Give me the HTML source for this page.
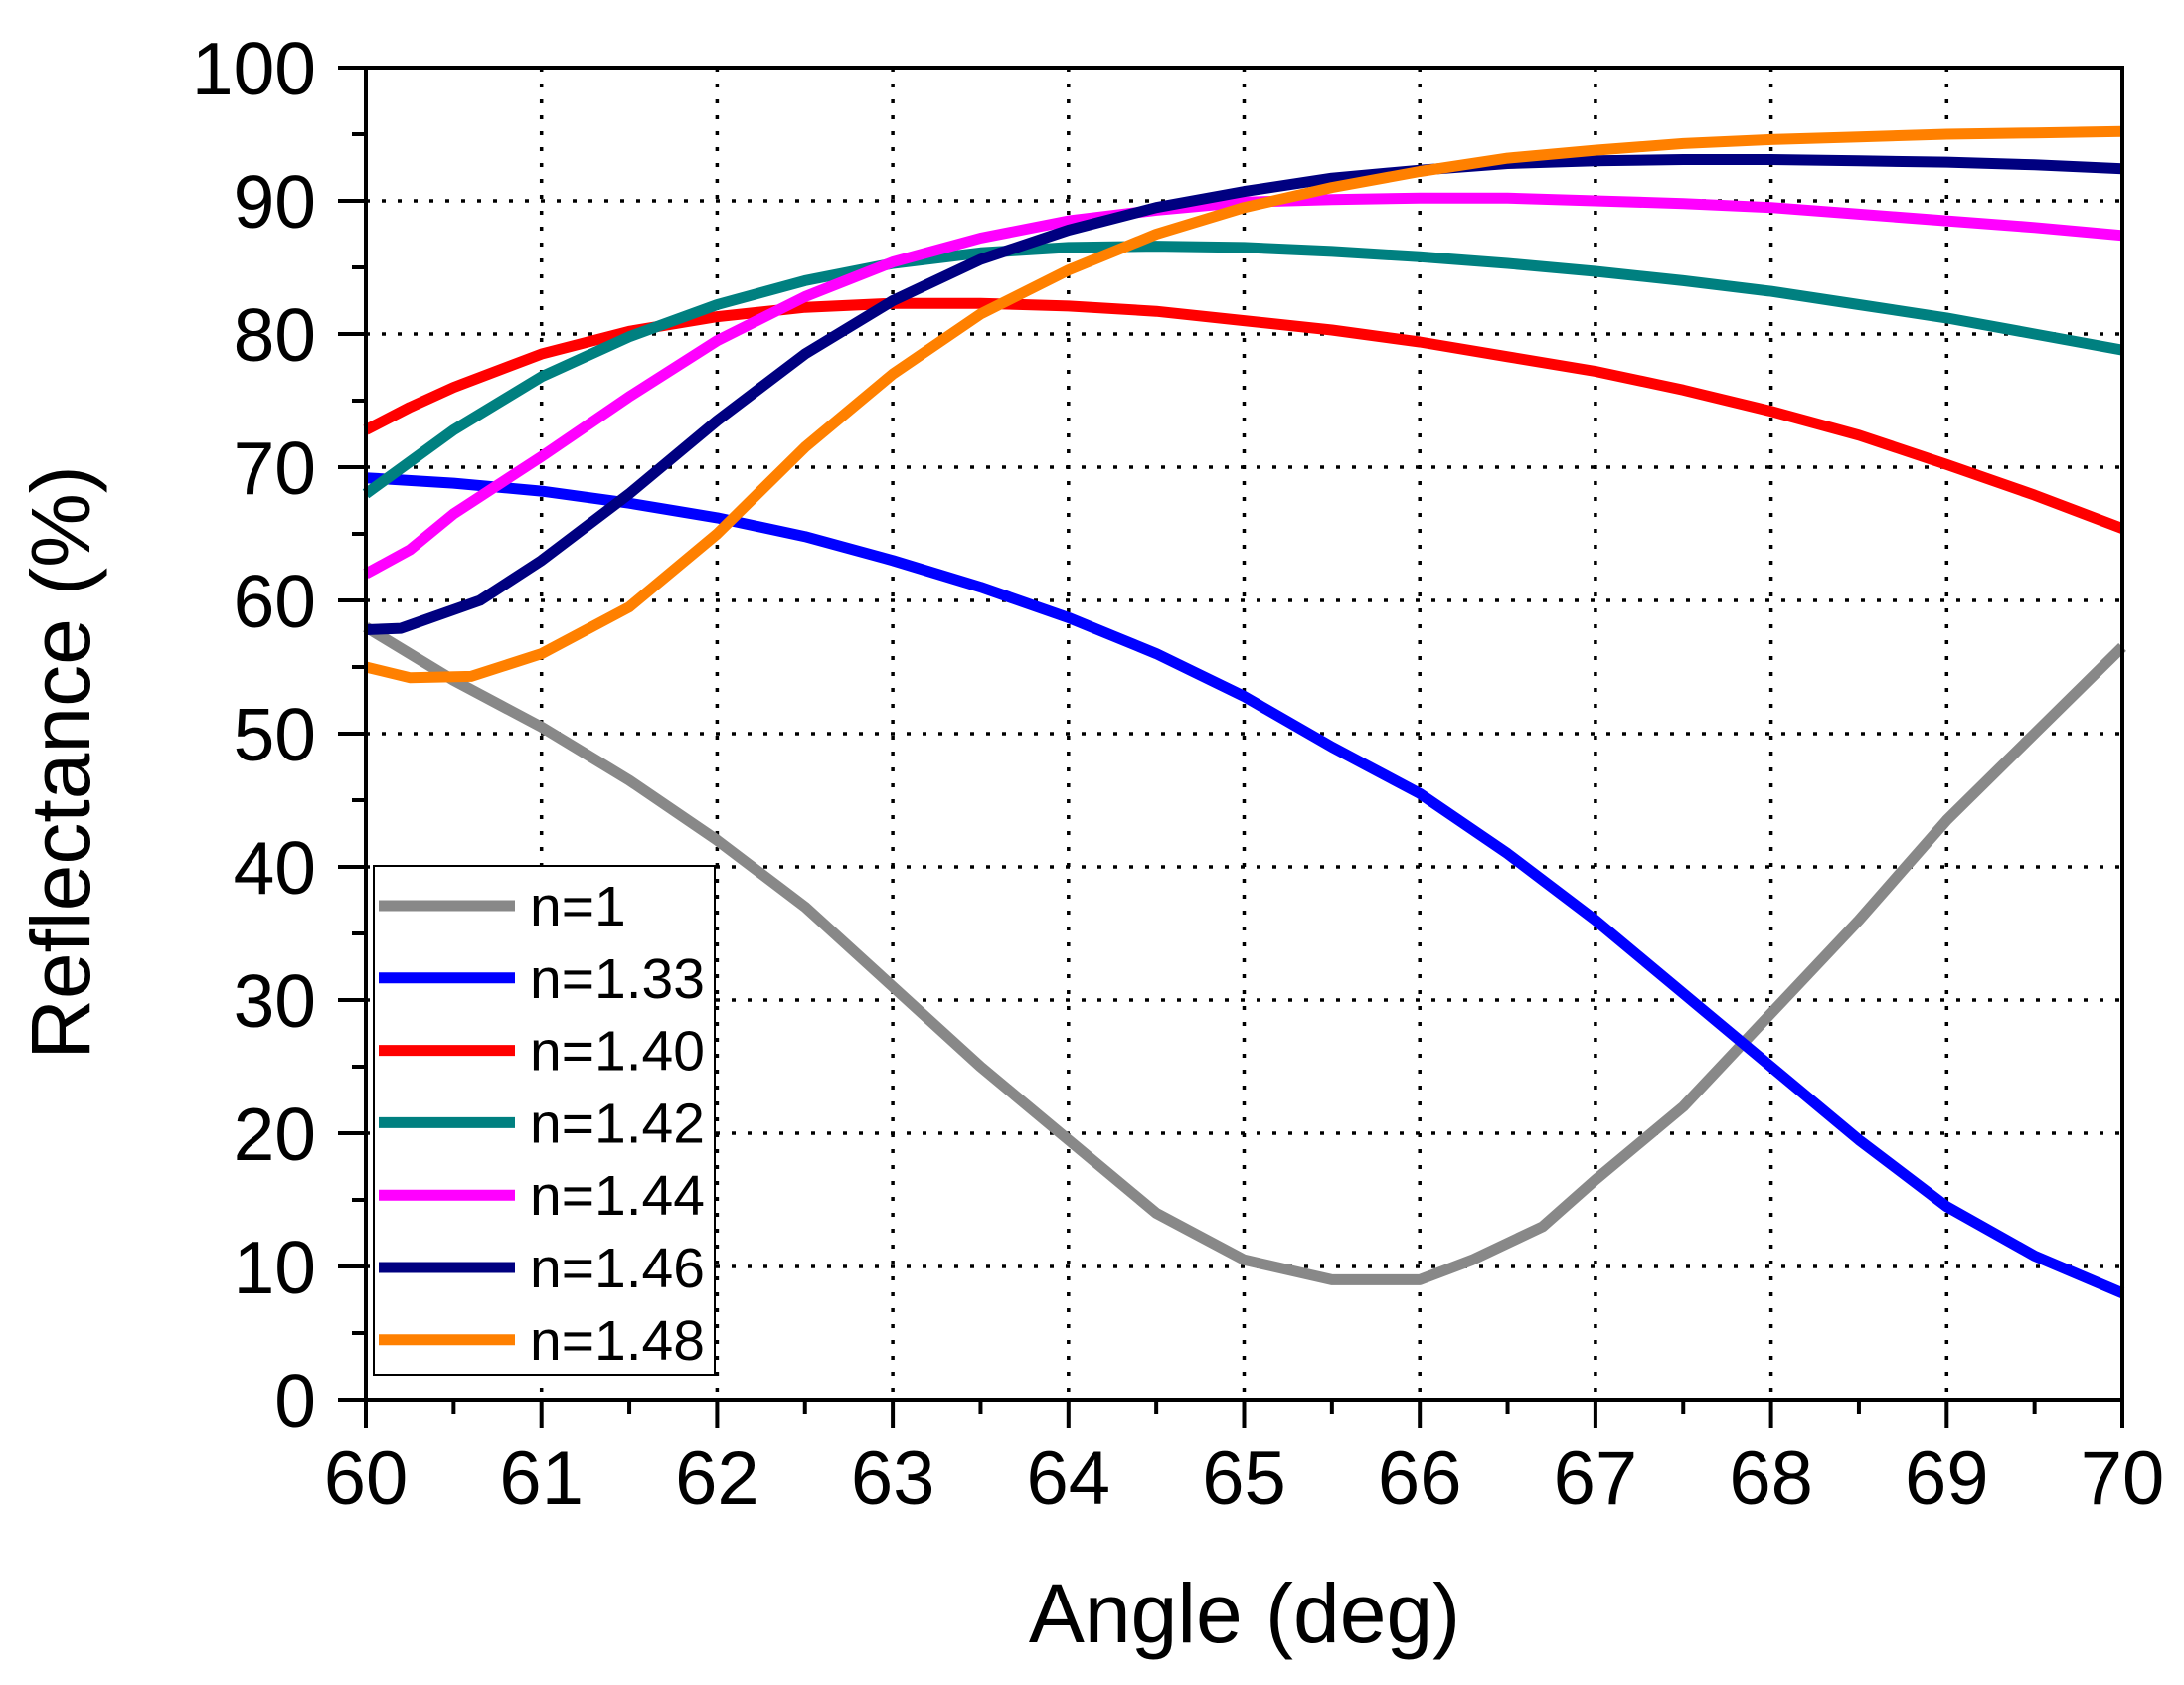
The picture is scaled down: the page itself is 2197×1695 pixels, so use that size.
<!DOCTYPE html>
<html><head><meta charset="utf-8"><style>
html,body{margin:0;padding:0;background:#fff}
svg{display:block}
text{font-family:"Liberation Sans",sans-serif;fill:#000}
</style></head><body>
<svg id="chart" width="2197" height="1695" viewBox="0 0 2197 1695" xmlns="http://www.w3.org/2000/svg">
<g id="grid"></g>
<g id="series"></g>
<g id="axes"></g>
<g id="legend"></g>
<text x="0" y="0" font-size="84" text-anchor="middle" transform="translate(90,767) rotate(-90)">Reflectance (%)</text>
<text x="1252" y="1652" font-size="84" text-anchor="middle">Angle (deg)</text>
</svg>
<script>
const xTicks=[60,61,62,63,64,65,66,67,68,69,70];
const yTicks=[0,10,20,30,40,50,60,70,80,90,100];
const seriesNames=["n=1","n=1.33","n=1.40","n=1.42","n=1.44","n=1.46","n=1.48"];
const seriesColors=["#888888","#0000ff","#ff0000","#008080","#ff00ff","#000080","#ff8000"];
const xN1=[60,60.5,61,61.5,62,62.5,63,63.5,64,64.5,65,65.5,66,66.3,66.7,67,67.5,68,68.5,69,69.5,70];
const yN1=[58,54,50.5,46.5,42,37,31,25,19.5,14,10.5,9,9,10.5,13,16.5,22,29,36,43.5,50,56.5];
const xStd=[60,60.5,61,61.5,62,62.5,63,63.5,64,64.5,65,65.5,66,66.5,67,67.5,68,68.5,69,69.5,70];
const yN133=[69.2,68.8,68.2,67.3,66.2,64.8,63,61,58.7,56,52.8,49,45.5,41,36,30.5,25,19.5,14.5,10.8,8];
const xN140=[60,60.25,60.5,61,61.5,62,62.5,63,63.5,64,64.5,65,65.5,66,66.5,67,67.5,68,68.5,69,69.5,70];
const yN140=[72.8,74.5,76,78.5,80.2,81.3,82,82.3,82.3,82.1,81.7,81,80.3,79.4,78.3,77.2,75.8,74.2,72.4,70.2,67.9,65.4];
const yN142=[68,72.8,76.8,79.8,82.2,84,85.3,86.1,86.5,86.6,86.5,86.2,85.8,85.3,84.7,84,83.2,82.2,81.2,80,78.8];
const xN144=[60,60.25,60.5,61,61.5,62,62.5,63,63.5,64,64.5,65,65.5,66,66.5,67,67.5,68,68.5,69,69.5,70];
const yN144=[62,63.8,66.5,70.8,75.3,79.5,82.8,85.4,87.2,88.5,89.3,89.9,90.1,90.2,90.2,90,89.8,89.5,89,88.5,88,87.4];
const xN146=[60,60.2,60.65,61,61.5,62,62.5,63,63.5,64,64.5,65,65.5,66,66.5,67,67.5,68,68.5,69,69.5,70];
const yN146=[57.8,57.9,60,63,68,73.5,78.5,82.5,85.6,87.8,89.5,90.7,91.7,92.3,92.8,93,93.1,93.1,93,92.9,92.7,92.4];
const xN148=[60,60.25,60.6,61,61.5,62,62.5,63,63.5,64,64.5,65,65.5,66,66.5,67,67.5,68,68.5,69,69.5,70];
const yN148=[55,54.2,54.3,56,59.5,65,71.5,77,81.5,84.8,87.5,89.5,91,92.2,93.2,93.8,94.3,94.6,94.8,95,95.1,95.2];
const seriesX=[xN1,xStd,xN140,xStd,xN144,xN146,xN148];
const seriesY=[yN1,yN133,yN140,yN142,yN144,yN146,yN148];

const NS="http://www.w3.org/2000/svg";
const L=368,R=2135,T=68,B=1408;
function sx(v){return L+(v-60)/10*(R-L);}
function sy(v){return B-v/100*(B-T);}
function mk(tag,parent,attrs){const e=document.createElementNS(NS,tag);for(const k in attrs)e.setAttribute(k,attrs[k]);parent.appendChild(e);return e;}
const grid=document.getElementById('grid'),axes=document.getElementById('axes'),ser=document.getElementById('series'),leg=document.getElementById('legend');
xTicks.forEach(t=>{if(t>60&&t<70){const g=mk('line',grid,{x1:sx(t),x2:sx(t),y1:T,y2:B,stroke:'#000','stroke-width':3.5,'stroke-dasharray':'4 12'});

}});
yTicks.forEach(t=>{if(t>0&&t<100){const g=mk('line',grid,{x1:L,x2:R,y1:sy(t),y2:sy(t),stroke:'#000','stroke-width':3.5,'stroke-dasharray':'4 12'});

}});
seriesY.forEach((ys,i)=>{const xs=seriesX[i];const pts=ys.map((y,j)=>sx(xs[j]).toFixed(1)+','+sy(y).toFixed(1)).join(' ');
const p=mk('polyline',ser,{points:pts,fill:'none',stroke:seriesColors[i],'stroke-width':11,'stroke-linejoin':'round'});

});
const frame=mk('rect',axes,{x:L,y:T,width:R-L,height:B-T,fill:'none',stroke:'#000','stroke-width':4});


xTicks.forEach(t=>{const tk=mk('line',axes,{x1:sx(t),x2:sx(t),y1:B,y2:B+28,stroke:'#000','stroke-width':4});


if(t<70){const m=mk('line',axes,{x1:sx(t+0.5),x2:sx(t+0.5),y1:B,y2:B+14,stroke:'#000','stroke-width':4});

}
const lb=mk('text',axes,{x:sx(t),y:1513,'font-size':76,'text-anchor':'middle'});lb.textContent=t;

});
yTicks.forEach(t=>{const tk=mk('line',axes,{x1:L-28,x2:L,y1:sy(t),y2:sy(t),stroke:'#000','stroke-width':4});


if(t<100){const m=mk('line',axes,{x1:L-14,x2:L,y1:sy(t+5),y2:sy(t+5),stroke:'#000','stroke-width':4});

}
const lb=mk('text',axes,{x:318,y:sy(t)+27,'font-size':75,'text-anchor':'end'});lb.textContent=t;

});
const box=mk('rect',leg,{x:376,y:871,width:343,height:512,fill:'#fff',stroke:'#000','stroke-width':2});


seriesNames.forEach((n,i)=>{const y=911+i*72.8;
const ln=mk('line',leg,{x1:381,x2:518,y1:y,y2:y,stroke:seriesColors[i],'stroke-width':11});


const tx=mk('text',leg,{x:533,y:y+20,'font-size':57});tx.textContent=n;

});
</script>
</body></html>
